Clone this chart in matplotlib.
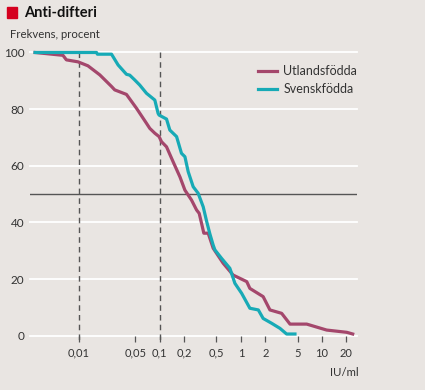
import matplotlib.pyplot as plt
from matplotlib.patches import Rectangle

# Svenskfödda (teal)
sv_x = [0.0029, 0.0166, 0.0170, 0.0254, 0.0306, 0.0388, 0.0426, 0.0491, 0.0566,
        0.0685, 0.0868, 0.0953, 0.098, 0.121, 0.133, 0.161, 0.185, 0.204, 0.224,
        0.258, 0.297, 0.343, 0.377, 0.414, 0.455, 0.478, 0.578, 0.731, 0.843,
        1.02, 1.29, 1.64, 1.88, 2.39, 3.03, 3.66, 4.64]
sv_y = [100, 100, 99.4, 99.4, 95.6, 92.3, 92.0, 90.3, 88.5,
        85.6, 83.2, 78.5, 77.9, 76.5, 72.6, 70.3, 64.4, 63.2, 57.9,
        52.6, 50.3, 45.5, 40.5, 36.0, 32.0, 30.3, 27.3, 23.8, 18.5,
        15.0, 9.7, 9.1, 6.1, 4.4, 2.6, 0.6, 0.6]

# Utlandsfödda (magenta)
ut_x = [0.0029, 0.0064, 0.00705, 0.0098, 0.0130, 0.0182, 0.0254, 0.0278, 0.0388,
        0.0516, 0.0685, 0.0753, 0.0868, 0.098, 0.105, 0.121, 0.146, 0.177, 0.204,
        0.246, 0.284, 0.306, 0.327, 0.349, 0.395, 0.455, 0.604, 0.803, 1.18,
        1.29, 1.88, 2.28, 3.18, 4.03, 6.48, 11.4, 20.2, 23.9]
ut_y = [100, 99, 97.4, 96.7, 95.3, 92.1, 88, 86.8, 85.2,
        80.3, 75, 73.2, 71.5, 70.3, 68.5, 66.7, 61.4, 56.1, 51.4,
        47.9, 44.4, 43.2, 39.7, 36.2, 36.2, 30.9, 25.6, 21.4, 19.1,
        16.7, 13.8, 9.1, 7.9, 4.1, 4.1, 2.0, 1.2, 0.6]

xticks = [0.01, 0.05, 0.1, 0.2, 0.5, 1, 2, 5, 10, 20]
xtick_labels = ["0,01", "0,05", "0,1", "0,2", "0,5", "1", "2", "5", "10", "20"]
yticks = [0, 20, 40, 60, 80, 100]

bg = "#e9e5e2"
magenta = "#a4476c"
teal = "#17aab6"
txt = "#333333"

plt.rcParams['font.family'] = ['Lato', 'DejaVu Sans']

fig = plt.figure(figsize=(4.25, 3.9), dpi=100, facecolor=bg)
ax = fig.add_axes([0.0706, 0.1392, 0.7694, 0.7262], facecolor=bg)
ax.set_xscale('log')
ax.set_xlim(0.00251, 27)
ax.set_ylim(0, 100)

for yv in yticks:
    ax.axhline(yv, color='white', lw=1.3, zorder=1, clip_on=False)
ax.axhline(50, color='#555555', lw=1.0, zorder=2)
for xv in [0.01, 0.1]:
    ax.plot([xv, xv], [100, -2.6], color='#555555', lw=1.0, ls=(0, (4, 3)),
            zorder=2, clip_on=False)

ax.plot(ut_x, ut_y, color=magenta, lw=2.3, zorder=3, solid_joinstyle='round',
        clip_on=False, label='Utlandsfödda')
ax.plot(sv_x, sv_y, color=teal, lw=2.3, zorder=4, solid_joinstyle='round',
        clip_on=False, label='Svenskfödda')

for s in ax.spines.values():
    s.set_visible(False)
ax.set_xticks(xticks)
ax.set_xticklabels(xtick_labels)
ax.minorticks_off()
ax.tick_params(axis='x', length=4.5, width=0.9, color='#555555', labelsize=8,
               labelcolor=txt, pad=4)
ax.set_yticks(yticks)
ax.set_yticklabels([str(v) for v in yticks])
ax.tick_params(axis='y', length=0, labelsize=8.5, labelcolor=txt, pad=4)

ax.legend(loc='upper right', bbox_to_anchor=(1.035, 0.995), frameon=False,
          fontsize=9, handlelength=1.5, handletextpad=0.5, labelspacing=0.5,
          labelcolor=txt)

fig.patches.append(Rectangle((7 / 425, 1 - 17.5 / 390), 10 / 425, 10 / 390,
                             transform=fig.transFigure, color='#d5001f'))
fig.text(24 / 425, 1 - 13 / 390, "Anti-difteri", fontsize=10.5, fontweight='bold',
         color='#111111', va='center', ha='left')
fig.text(10 / 425, 1 - 35 / 390, "Frekvens, procent", fontsize=8.2, color=txt,
         va='center', ha='left')
fig.text(359 / 425, 1 - 372 / 390, "IU/ml", fontsize=8.2, color=txt,
         va='center', ha='right')

fig.savefig("out.png", dpi=100, facecolor=bg)
